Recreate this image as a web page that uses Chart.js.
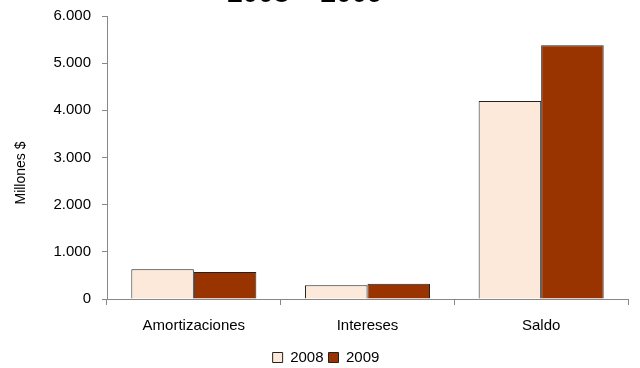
<!DOCTYPE html>
<html>
<head>
<meta charset="utf-8">
<script src="https://cdn.jsdelivr.net/npm/chart.js@4"></script>
<style>
  html, body { margin: 0; padding: 0; background: #fff; overflow: hidden; }
  #wrap { position: relative; width: 640px; height: 368px; }
  #titulo {
    position: absolute; left: 0; width: 610px; top: -21px;
    text-align: center; font: bold 28px "Liberation Sans", Arial, sans-serif;
    line-height: 28px; color: #000;
  }
  #ejeTitulo {
    position: absolute; left: 20px; top: 173px; width: 120px; margin-left: -60px;
    margin-top: -8px; height: 16px; line-height: 16px; text-align: center;
    transform: rotate(-90deg);
    font: 14px "Liberation Sans", Arial, sans-serif; color: #000;
  }
</style>
</head>
<body>
<div id="wrap">
  <canvas id="deudaChart" width="640" height="368"></canvas>
  <div id="titulo">2008 – 2009</div>
  <div id="ejeTitulo">Millones $</div>
</div>
<script>
const categorias = ["Amortizaciones", "Intereses", "Saldo"];
const anios = ["2008", "2009"];
const valores2008 = [630, 290, 4200];
const valores2009 = [575, 325, 5380];
const ejeY = { min: 0, max: 6000, paso: 1000 };

// miles con punto
const fmt = (v) => String(v).replace(/\B(?=(\d{3})+(?!\d))/g, ".");

const fuente = { family: "'Liberation Sans', Arial, sans-serif", size: 15 };

const ctx = document.getElementById("deudaChart").getContext("2d");

const config = {
  type: "bar",
  data: {
    labels: categorias,
    datasets: [
      {
        label: anios[0],
        data: valores2008,
        backgroundColor: "#fde9d9",
        borderColor: "#222222",
        borderWidth: 1,
      },
      {
        label: anios[1],
        data: valores2009,
        backgroundColor: "#993300",
        borderColor: "#222222",
        borderWidth: 1,
      },
    ],
  },
  options: {
    responsive: false,
    animation: false,
    // padding izq. solo para centrar la leyenda como en el original
    layout: { padding: { left: 24, right: 12, top: 0, bottom: 0 } },
    datasets: { bar: { categoryPercentage: 0.72, barPercentage: 1.0 } },
    plugins: {
      title: { display: false },
      tooltip: { enabled: false },
      legend: {
        position: "bottom",
        maxHeight: 23,
        labels: {
          color: "#000",
          font: fuente,
          boxWidth: 10,
          boxHeight: 10,
          padding: 5,
        },
      },
    },
    scales: {
      x: {
        grid: {
          display: true,
          drawOnChartArea: false,
          offset: true,
          color: "#888888",
          tickLength: 6,
        },
        border: { color: "#888888", width: 1 },
        ticks: { color: "#000", font: fuente, padding: 12 },
        afterFit: (s) => { s.height = 46; },
      },
      y: {
        min: ejeY.min,
        max: ejeY.max,
        grid: {
          display: true,
          drawOnChartArea: false,
          color: "#888888",
          tickLength: 5,
        },
        border: { color: "#888888", width: 1 },
        ticks: {
          stepSize: ejeY.paso,
          color: "#000",
          font: fuente,
          padding: 11,
          callback: (v) => fmt(v),
        },
        afterFit: (s) => {
          s.width = 83;
          s.paddingTop = 16;
          s.paddingBottom = 0;
        },
      },
    },
  },
};

const deudaChart = new Chart(ctx, config);
</script>
</body>
</html>
